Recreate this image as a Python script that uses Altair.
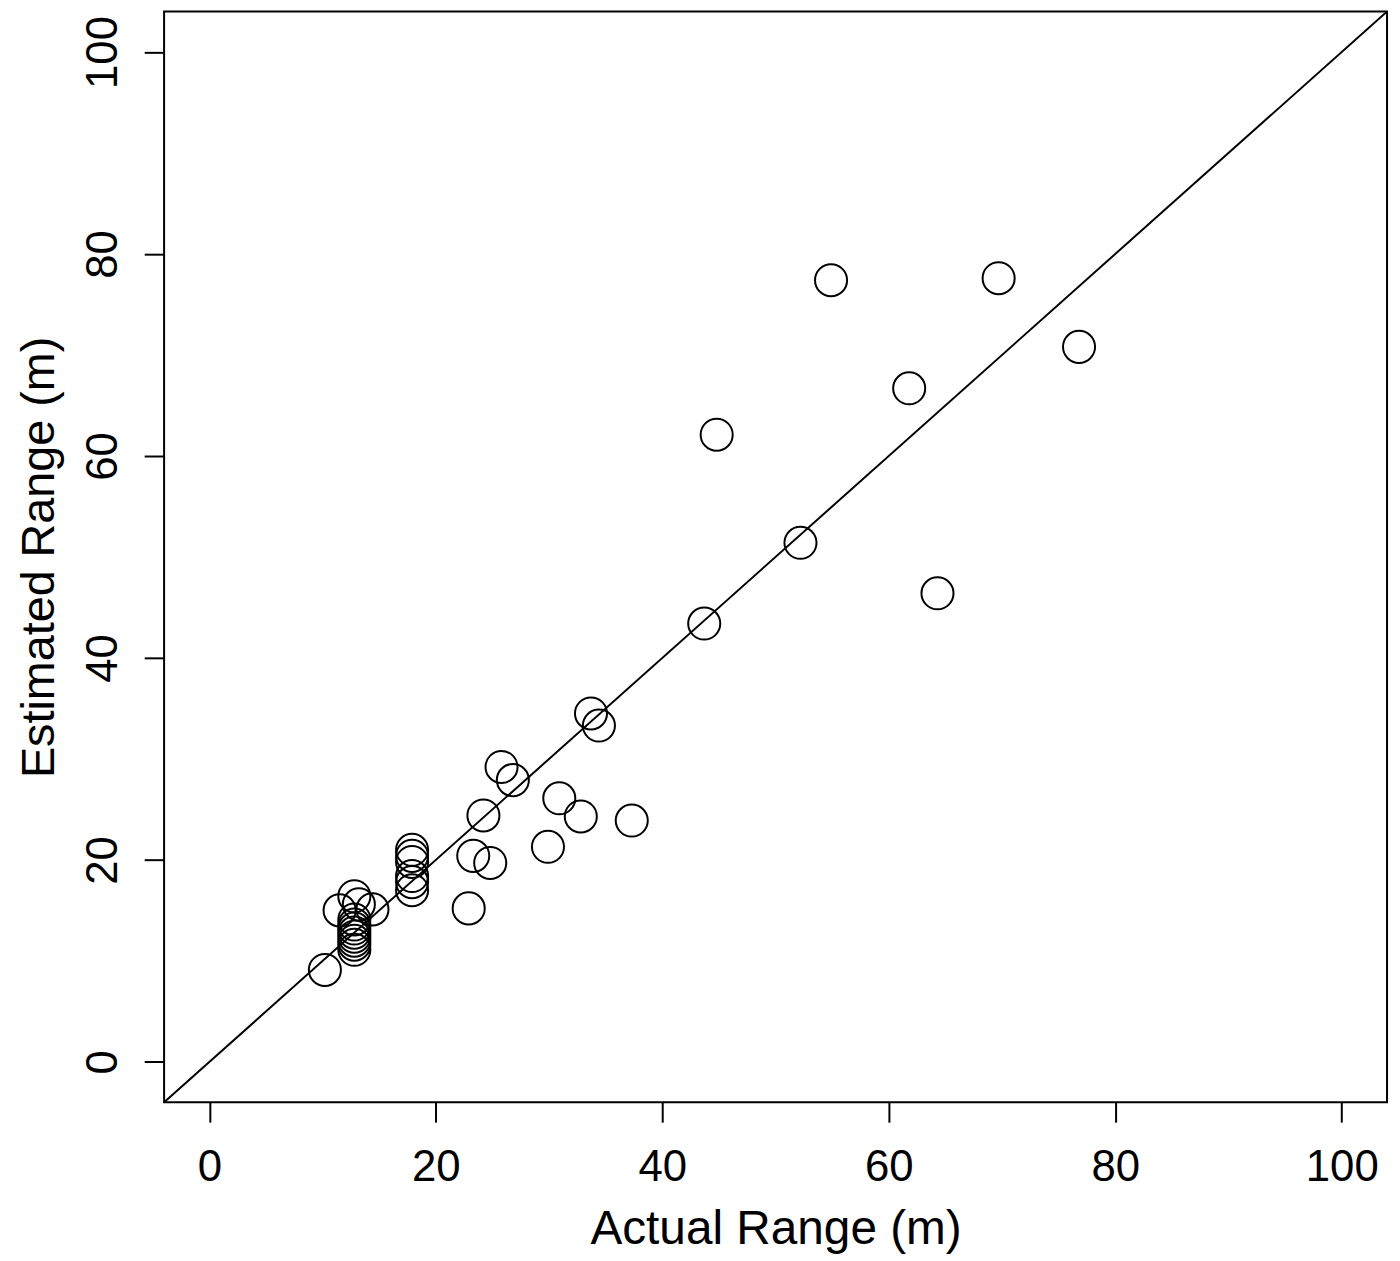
import altair as alt
import pandas as pd

actual = [10.2, 11.5, 12.8, 13.2, 14.4,
          12.8, 12.8, 12.8, 12.8, 12.8, 12.8, 12.8, 12.8,
          17.9, 17.9, 17.9, 17.9, 17.9, 17.9,
          22.9, 23.3, 24.8, 24.2, 25.8, 26.8, 29.9, 30.9, 32.8, 37.3,
          33.7, 34.4, 43.7, 44.8, 52.2, 54.9, 61.8, 64.3, 69.7, 76.8]
estimated = [9.1, 15.0, 16.4, 15.6, 15.1,
             14.1, 13.6, 13.2, 12.8, 12.4, 12.0, 11.6, 11.1,
             21.0, 20.4, 19.8, 18.4, 17.8, 17.0,
             15.2, 20.4, 19.7, 24.4, 29.2, 27.9, 21.3, 26.1, 24.3, 23.9,
             34.5, 33.3, 43.4, 62.1, 51.4, 77.4, 66.7, 46.4, 77.6, 70.8]

line_x = [-4, 104]
line_y = [-4, 104]

ticks = [0, 20, 40, 60, 80, 100]
domain = [-4, 104]

pts = pd.DataFrame({"actual": actual, "estimated": estimated})
ref = pd.DataFrame({"actual": line_x, "estimated": line_y})

tick_font = "Liberation Sans Narrow, Arial Narrow, Liberation Sans, sans-serif"

x_axis = alt.Axis(
    values=ticks, grid=False, domain=False, tickSize=20, tickWidth=2,
    tickColor="black", labelFont=tick_font, labelFontSize=44,
    labelColor="black", labelBaseline="alphabetic", labelPadding=59,
    labelFlush=False, labelOverlap=False,
    title="Actual Range (m)", titleFont="Liberation Sans", titleFontSize=48,
    titleFontWeight="normal", titleColor="black", titleBaseline="alphabetic",
    titleY=142,
)
y_axis = alt.Axis(
    values=ticks, grid=False, domain=False, tickSize=20, tickWidth=2,
    tickColor="black", labelFont=tick_font, labelFontSize=44,
    labelColor="black", labelAngle=-90, labelAlign="center",
    labelBaseline="alphabetic", labelPadding=28,
    labelFlush=False, labelOverlap=False,
    title="Estimated Range (m)", titleFont="Liberation Sans", titleFontSize=47,
    titleFontWeight="normal", titleColor="black", titleBaseline="alphabetic",
    titleAngle=-90, titleX=-111,
)

xs = alt.Scale(domain=domain, nice=False, zero=False)
ys = alt.Scale(domain=domain, nice=False, zero=False)

points = alt.Chart(pts).mark_point(
    shape="circle", filled=False, size=1040, stroke="black", strokeWidth=2, opacity=1
).encode(
    x=alt.X("actual:Q", scale=xs, axis=x_axis),
    y=alt.Y("estimated:Q", scale=ys, axis=y_axis),
)

line = alt.Chart(ref).mark_line(color="black", strokeWidth=2, clip=True).encode(
    x=alt.X("actual:Q", scale=xs),
    y=alt.Y("estimated:Q", scale=ys),
)

chart = alt.layer(line, points).properties(
    width=1230, height=1097,
    autosize=alt.AutoSizeParams(type="none"),
    padding={"left": 157, "top": 0, "right": 5, "bottom": 150},
    background="white",
).configure_view(stroke="black", strokeWidth=2, strokeOpacity=1)

chart.save("out.html", embed_options={"renderer": "svg", "actions": False})
